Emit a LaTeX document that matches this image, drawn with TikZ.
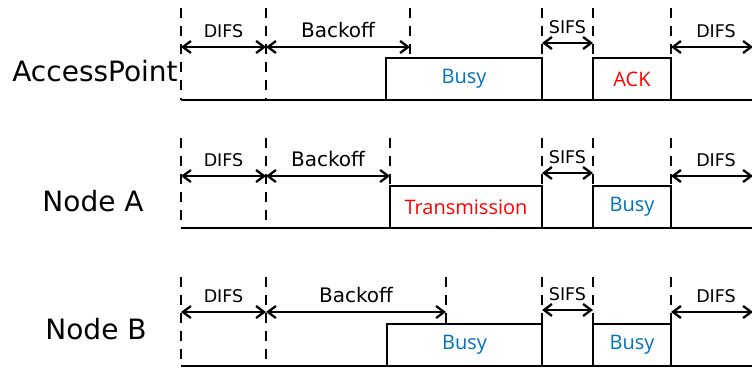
\documentclass[tikz,border=0pt]{standalone}
\usepackage{fontspec}
\setmainfont{DejaVu Sans}
\newfontfamily\slotfont{Open Sans}
\usetikzlibrary{arrows.meta}
\definecolor{busyblue}{RGB}{0,112,192}
\definecolor{txred}{RGB}{255,0,0}

\begin{document}
\begin{tikzpicture}[x=1pt, y=-1pt, >={Straight Barb[length=8pt,width=12pt]},
  guide/.style={line width=2.7pt, dash pattern=on 10pt off 8pt},
  lane/.style={line width=2.8pt},
  span/.style={<->, line width=2.3pt},
  slot/.style={draw, line width=2.8pt, outer sep=0pt, inner sep=0pt, anchor=south, minimum height=42pt, font=\slotfont\fontsize{20}{20}\selectfont},
  rowname/.style={anchor=base, font=\fontsize{28}{28}\selectfont},
  tag/.style={midway, anchor=base, yshift=10pt, font=\fontsize{17.5}{17.5}\selectfont},
  bigtag/.style={tag, font=\fontsize{20}{20}\selectfont}]
\path[use as bounding box, clip] (0,0) rectangle (752,367);

% AccessPoint
\node[rowname] (apname) at (95,81) {AccessPoint};
\draw[lane] (181,100) -- (752,100);
\foreach \t in {181,266} \draw[guide] (\t,8) -- (\t,100);
\foreach \t in {410,542,593,671} \draw[guide] (\t,8) -- (\t,58);
\node[slot, minimum width=156pt, text=busyblue] (apbusy) at (464,100) {Busy};
\node[slot, minimum width=78pt, text=txred] (apack) at (632,100) {ACK};
\coordinate (ap0) at (181,47);
\coordinate (ap1) at (266,47);
\coordinate (ap2) at (410,47);
\coordinate (ap3) at (542,43);
\coordinate (ap4) at (593,43);
\coordinate (ap5) at (671,47);
\coordinate (ap6) at (753,47);
\draw[span] (ap0) -- node[tag] {DIFS} (ap1);
\draw[span] (ap1) -- node[bigtag] {Backoff} (ap2);
\draw[span] (ap3) -- node[tag] {SIFS} (ap4);
\draw[span] (ap5) -- node[tag, xshift=4pt] {DIFS} (ap6);

% Node A
\node[rowname] (aname) at (93,211) {Node A};
\draw[lane] (181,228) -- (752,228);
\foreach \t in {181,266} \draw[guide] (\t,138) -- (\t,228);
\foreach \t in {390,542,593,671} \draw[guide] (\t,138) -- (\t,186);
\node[slot, minimum width=152pt, text=txred] (atx) at (466,228) {Transmission};
\node[slot, minimum width=78pt, text=busyblue] (abusy) at (632,228) {Busy};
\coordinate (a0) at (181,176);
\coordinate (a1) at (266,176);
\coordinate (a2) at (390,176);
\coordinate (a3) at (542,173);
\coordinate (a4) at (593,173);
\coordinate (a5) at (671,176);
\coordinate (a6) at (753,176);
\draw[span] (a0) -- node[tag] {DIFS} (a1);
\draw[span] (a1) -- node[bigtag] {Backoff} (a2);
\draw[span] (a3) -- node[tag] {SIFS} (a4);
\draw[span] (a5) -- node[tag, xshift=4pt] {DIFS} (a6);

% Node B
\node[rowname] (bname) at (96,339) {Node B};
\draw[lane] (181,366) -- (752,366);
\foreach \t in {181,266} \draw[guide] (\t,277) -- (\t,366);
\foreach \t in {446,542,593,671} \draw[guide] (\t,277) -- (\t,325);
\node[slot, minimum width=155pt, text=busyblue] (bbusy) at (464.5,366) {Busy};
\node[slot, minimum width=78pt, text=busyblue] (bbusy2) at (632,366) {Busy};
\coordinate (b0) at (181,312);
\coordinate (b1) at (266,312);
\coordinate (b2) at (446,312);
\coordinate (b3) at (542,310);
\coordinate (b4) at (593,310);
\coordinate (b5) at (671,312);
\coordinate (b6) at (753,312);
\draw[span] (b0) -- node[tag] {DIFS} (b1);
\draw[span] (b1) -- node[bigtag] {Backoff} (b2);
\draw[span] (b3) -- node[tag] {SIFS} (b4);
\draw[span] (b5) -- node[tag, xshift=4pt] {DIFS} (b6);
\end{tikzpicture}
\end{document}
